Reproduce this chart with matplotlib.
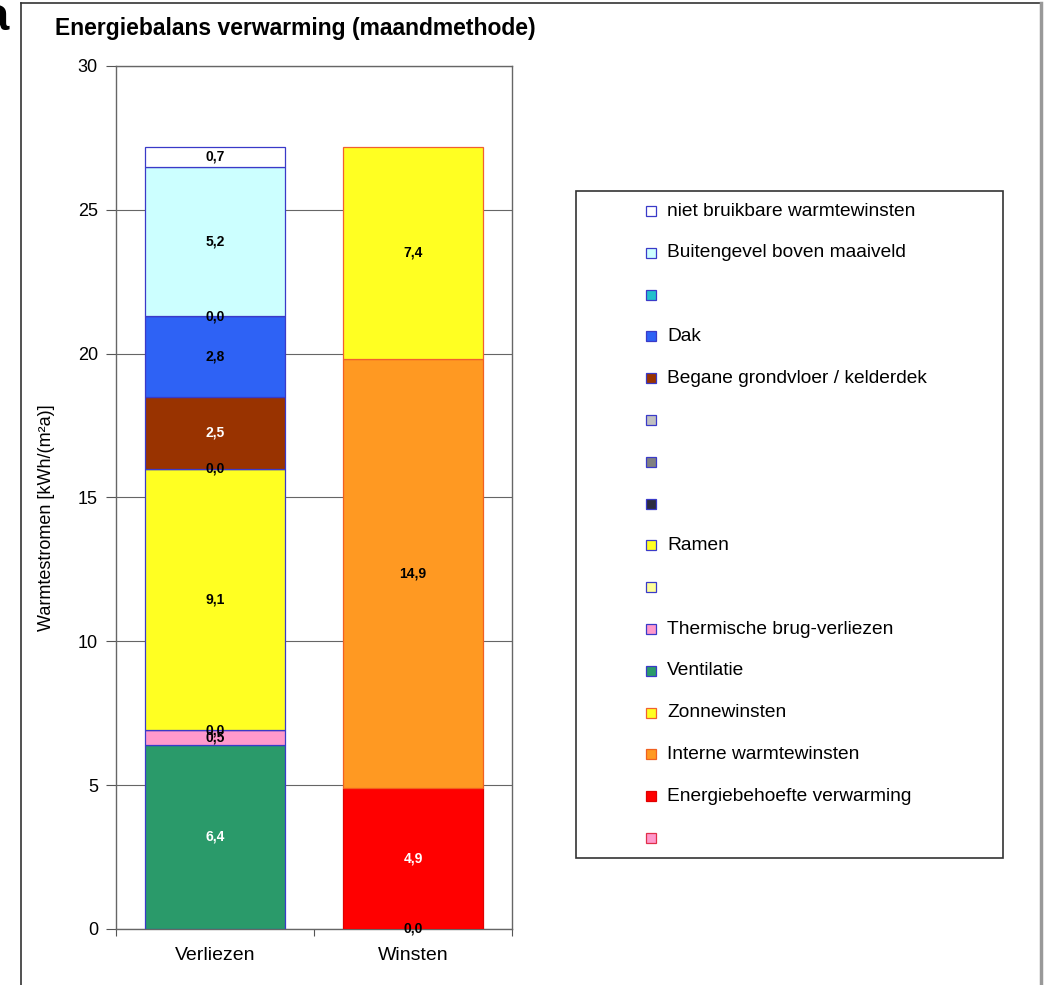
import matplotlib.pyplot as plt
from matplotlib.patches import Rectangle
from matplotlib.lines import Line2D

plt.rcParams['font.family'] = ['Liberation Sans', 'DejaVu Sans']

# categories on the x axis
categories = ['Verliezen', 'Winsten']

# series, bottom of the stack first (None = not in that column)
names = ['', 'Energiebehoefte verwarming', 'Interne warmtewinsten', 'Zonnewinsten',
         'Ventilatie', 'Thermische brug-verliezen', '', 'Ramen',
         '', '', '', 'Begane grondvloer / kelderdek', 'Dak', '',
         'Buitengevel boven maaiveld', 'niet bruikbare warmtewinsten']
verliezen = [None, None, None, None,
             6.4, 0.5, 0.0, 9.1,
             0.0, None, None, 2.5, 2.8, 0.0,
             5.2, 0.7]
winsten = [0.0, 4.9, 14.9, 7.4,
           None, None, None, None,
           None, None, None, None, None, None,
           None, None]
colors = ['#FF99CC', '#FF0000', '#FF9922', '#FFFF22',
          '#2A9A6A', '#FF99CC', '#FFFF99', '#FFFF22',
          '#2B2B40', '#808080', '#C0C0C0', '#993300', '#2E62F5', '#22C0CC',
          '#CCFFFF', '#FFFFFF']
edges = ['#E0304A', '#E00000', '#F06020', '#F06030'] + ['#3A3AC8'] * 12
white_text = {'Ventilatie', 'Begane grondvloer / kelderdek', 'Energiebehoefte verwarming'}

fig = plt.figure(figsize=(10.45, 9.85), dpi=100)
ax = fig.add_axes([0.111, 0.0569, 0.379, 0.8761])

width = 0.71
bottoms = [0.0, 0.0]
for name, v, w, c, ec in zip(names, verliezen, winsten, colors, edges):
    for i, val in enumerate([v, w]):
        if val is None:
            continue
        ax.bar(i, val, width, bottom=bottoms[i], color=c, edgecolor=ec,
               linewidth=0.9, zorder=3)
        tc = 'white' if name in white_text else 'black'
        ax.text(i, bottoms[i] + val / 2, f'{val:.1f}'.replace('.', ','),
                ha='center', va='center', fontsize=10, fontweight='bold',
                color=tc, zorder=4)
        bottoms[i] += val

ax.set_xlim(-0.5, 1.5)
ax.set_ylim(0, 30)
ax.set_yticks([0, 5, 10, 15, 20, 25, 30])
ax.tick_params(axis='y', labelsize=13, length=7, color='#555555', pad=6)
ax.set_xticks([-0.5, 0.5, 1.5])
ax.set_xticklabels([])
ax.tick_params(axis='x', which='major', length=5, color='#555555')
ax.set_xticks([0, 1], minor=True)
ax.set_xticklabels(categories, minor=True, fontsize=14)
ax.tick_params(axis='x', which='minor', length=0, pad=13)
ax.grid(axis='y', color='#666666', linewidth=0.8, zorder=0)
for s in ax.spines.values():
    s.set_color('#666666')
    s.set_linewidth(1.0)
ax.set_ylabel('Warmtestromen [kWh/(m²a)]', fontsize=13)
ax.yaxis.set_label_coords(-0.155, 0.477)

fig.text(55 / 1045, 1 - 29 / 985, 'Energiebalans verwarming (maandmethode)',
         fontsize=16.5, fontweight='bold', va='center', ha='left')

# outer chart border
fig.add_artist(Line2D([21 / 1045, 21 / 1045], [0, 1 - 3 / 985], color='#333333', lw=1.2))
fig.add_artist(Line2D([21 / 1045, 1041 / 1045], [1 - 3 / 985, 1 - 3 / 985], color='#333333', lw=1.2))
fig.add_artist(Line2D([1041 / 1045, 1041 / 1045], [0, 1 - 3 / 985], color='#999999', lw=2.5))
fig.text(-0.0165, 1 - 30 / 985, 'a', fontsize=34, fontweight='bold', va='baseline', ha='left')

# legend box, top entry = top of the stack
fig.add_artist(Rectangle((576 / 1045, 1 - 858 / 985), 427 / 1045, 667 / 985,
                         transform=fig.transFigure, facecolor='white',
                         edgecolor='#333333', linewidth=1.2))
step = 41.8
for k, (name, c, ec) in enumerate(zip(names[::-1], colors[::-1], edges[::-1])):
    yc = 211 + k * step
    fig.add_artist(Rectangle((646 / 1045, 1 - (yc + 5) / 985), 10 / 1045, 10 / 985,
                             transform=fig.transFigure, facecolor=c,
                             edgecolor=ec, linewidth=0.9))
    if name:
        fig.text(667 / 1045, 1 - yc / 985, name, fontsize=13.8,
                 va='center', ha='left')

fig.savefig('out.png', dpi=100)
